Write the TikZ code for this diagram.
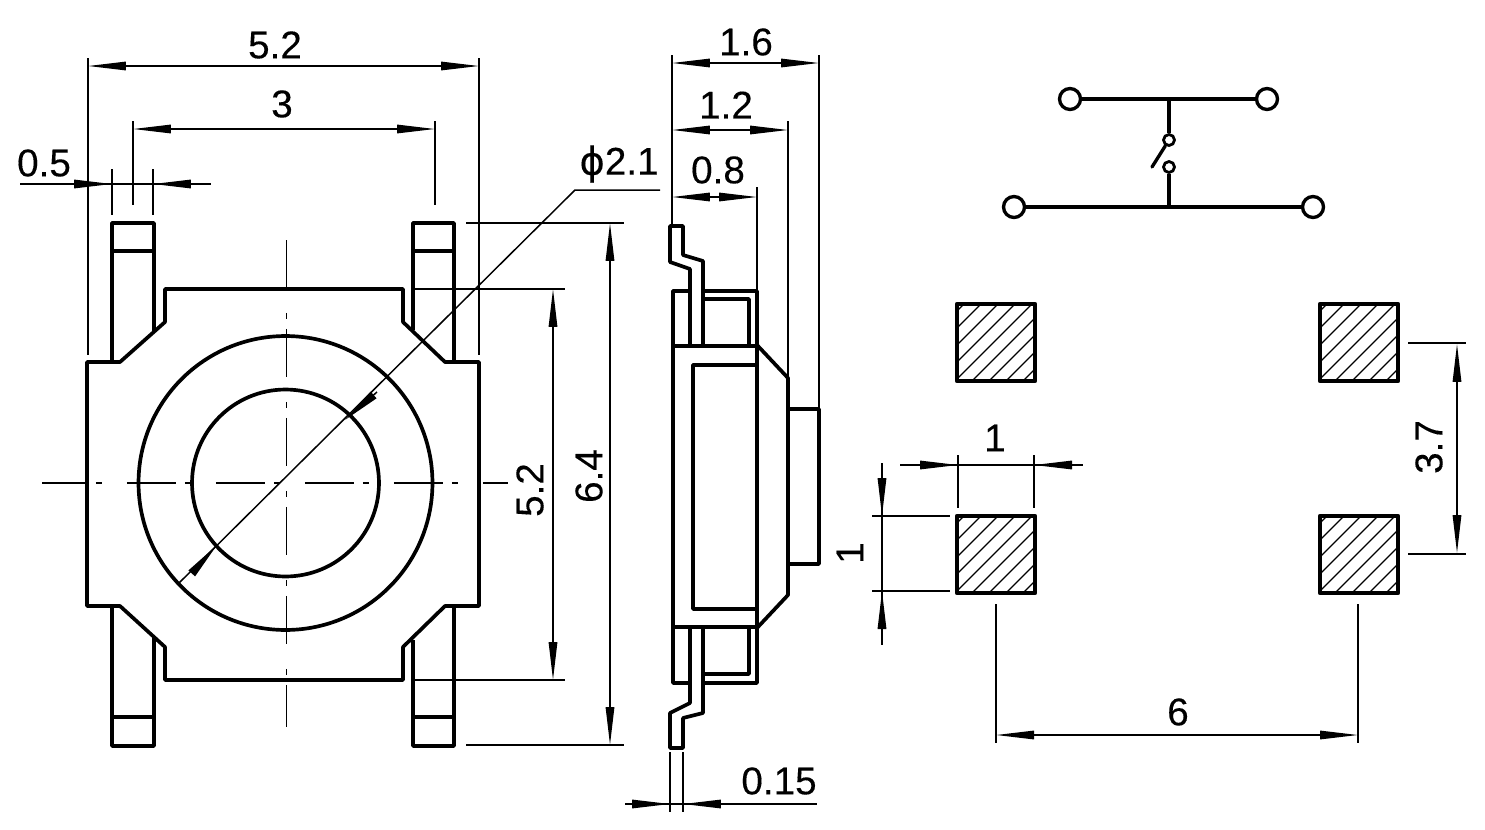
\documentclass[tikz,border=0pt]{standalone}
\usepackage{fontspec}
\setmainfont[FakeBold=0.25]{Liberation Sans}
\newfontfamily\symfont[FakeBold=0.25]{DejaVu Sans}
\usetikzlibrary{arrows.meta}

\begin{document}
\begin{tikzpicture}[x=0.02cm, y=-0.02cm, line join=round,
  outline/.style={line width=2.1pt},
  thinline/.style={line width=0.85pt},
  wire/.style={line width=1.9pt},
  hatchline/.style={line width=0.75pt},
  padbox/.style={line width=2.4pt},
  dimline/.style={thinline, {Triangle[length=0.76cm,width=0.17cm]}-{Triangle[length=0.76cm,width=0.17cm]}},
  tipin/.style={thinline, -{Triangle[length=0.76cm,width=0.17cm]}},
  dimtext/.style={font=\fontsize{22}{22}\selectfont, inner sep=0pt},
  term/.style={circle, draw, wire, fill=white, inner sep=0pt, minimum size=0.42cm},
  contact/.style={circle, draw, line width=1.6pt, fill=white, inner sep=0pt, minimum size=0.22cm},
  centerh/.style={thinline, dash pattern=on 0.98cm off 0.18cm on 0.12cm off 0.5cm, dash phase=0.08cm},
  centerv/.style={thinline, dash pattern=on 0.96cm off 0.5cm on 0.12cm off 0.2cm},
]
  \useasboundingbox (0,0) rectangle (1485,829);

  % front view
  \draw[outline] (165,289) -- (403,289) -- (403,322) -- (445,362) -- (479,362) -- (479,606) -- (445,606)
    -- (403,647) -- (403,680) -- (165,680) -- (165,647) -- (120,606) -- (87,606) -- (87,362) -- (120,362)
    -- (165,322) -- cycle;
  \draw[outline] (112,362) -- (112,223) -- (154,223) -- (154,332) (112,251) -- (154,251);
  \draw[outline] (413,330) -- (413,223) -- (454,223) -- (454,362) (413,251) -- (454,251);
  \draw[outline] (112,606) -- (112,746) -- (154,746) -- (154,638) (112,717) -- (154,717);
  \draw[outline] (413,640) -- (413,746) -- (454,746) -- (454,606) (413,717) -- (454,717);
  \draw[outline] (285.5,483) circle (2.94cm) circle (1.87cm);
  \draw[centerh] (42,483) -- (508,483);
  \draw[centerv] (286.5,240) -- (286.5,727);

  % side view
  \draw[outline] (690,346) -- (690,269) -- (670,262) -- (670,226) -- (683,226) -- (683,255) -- (703,261) -- (703,346);
  \draw[outline] (690,627) -- (690,703) -- (670,713) -- (670,748) -- (683,748) -- (683,718) -- (703,713) -- (703,627);
  \draw[outline] (690,291) -- (673,291) -- (673,683) -- (690,683) (703,291) -- (757,291) -- (757,683) -- (703,683);
  \draw[outline] (673,346) -- (757,346) (673,627) -- (757,627);
  \draw[outline] (703,299) -- (749,299) -- (749,346) (703,674) -- (749,674) -- (749,627);
  \draw[outline] (757,365) -- (693,365) -- (693,609) -- (757,609);
  \draw[outline] (757,345) -- (788,378) -- (788,595) -- (757,628);
  \draw[outline] (788,409) -- (819,409) -- (819,564) -- (788,564);

  % symbol
  \node[term] (ta) at (1070,99) {};
  \node[term] (tb) at (1267,99) {};
  \node[term] (tc) at (1014,207) {};
  \node[term] (td) at (1313,207) {};
  \node[contact] (ca) at (1169,140) {};
  \node[contact] (cb) at (1169,167) {};
  \coordinate (ja) at (1169,99);
  \coordinate (jb) at (1169,207);
  \coordinate (bladeend) at (1152,167);
  \draw[wire] (ta) -- (tb) (tc) -- (td) (ja) -- (ca) (cb) -- (jb);
  \draw[wire, line cap=round] (bladeend) -- (ca);

  % pads
  \foreach \px/\py in {957/304, 1320/304, 957/516, 1320/516} {
    \begin{scope}
      \clip (\px,\py) rectangle ++(78,77);
      \foreach \k in {0,...,9} {
        \draw[hatchline] (\px-73+\k*17,\py+80) -- ++(80,-80);
      }
    \end{scope}
    \draw[padbox] (\px,\py) rectangle ++(78,77);
  }

  % extension lines, front view
  \draw[thinline] (88,58) -- (88,355) (479,58) -- (479,355);
  \draw[thinline] (133,121) -- (133,205) (435,121) -- (435,205);
  \draw[thinline] (112,169) -- (112,215) (153,169) -- (153,215);
  \draw[thinline] (413,289) -- (565,289) (413,680) -- (565,680);
  \draw[thinline] (466,223) -- (624,223) (466,745) -- (624,745);

  % extension lines, side view
  \draw[thinline] (672,55) -- (672,226) (819,55) -- (819,409);
  \draw[thinline] (788,121) -- (788,378) (757,187) -- (757,291);
  \draw[thinline] (670,752) -- (670,812) (683,752) -- (683,812);

  % extension lines, pads
  \draw[thinline] (958,455) -- (958,508) (1034,455) -- (1034,508);
  \draw[thinline] (872,516) -- (950,516) (872,591) -- (950,591);
  \draw[thinline] (1408,343) -- (1466,343) (1408,554) -- (1466,554);
  \draw[thinline] (996,604) -- (996,743) (1358,604) -- (1358,743);

  % dimension lines
  \draw[dimline] (88,66) -- (479,66);
  \draw[dimline] (133,129) -- (435,129);
  \draw[dimline] (553,289) -- (553,680);
  \draw[dimline] (610,223) -- (610,745);
  \draw[dimline] (672,63) -- (819,63);
  \draw[dimline] (672,130) -- (788,130);
  \draw[dimline] (672,197) -- (757,197);
  \draw[dimline] (1457,344) -- (1457,553);
  \draw[dimline] (996,735) -- (1358,735);

  \draw[thinline] (20,184) -- (211,184);
  \draw[tipin] (73,184) -- (112,184);
  \draw[tipin] (196,184) -- (153,184);
  \draw[thinline] (625,804) -- (817,804);
  \draw[tipin] (633,804) -- (670,804);
  \draw[tipin] (722,804) -- (683,804);
  \draw[thinline] (900,465) -- (1083,465);
  \draw[tipin] (917,465) -- (958,465);
  \draw[tipin] (1067,465) -- (1034,465);
  \draw[thinline] (882,463) -- (882,645);
  \draw[tipin] (882,480) -- (882,516);
  \draw[tipin] (882,630) -- (882,591);

  % diameter leader
  \draw[thinline] (660,190) -- (575,190) -- (178,584);
  \draw[tipin] (377,392) -- (345,420);
  \draw[tipin] (193,572) -- (217,545);

  % labels
  \node[dimtext] (topwidth) at (275,45) {5.2};
  \node[dimtext] (leadspan) at (282,104) {3};
  \node[dimtext] (leadwidth) at (44,163) {0.5};
  \node[dimtext] (capdia) at (619,164) {{\symfont ϕ}2.1};
  \node[dimtext, rotate=90] (bodyheight) at (530,490) {5.2};
  \node[dimtext, rotate=90] (totalheight) at (589,476) {6.4};
  \node[dimtext] (totaldepth) at (746,42) {1.6};
  \node[dimtext] (bodydepth) at (726,105) {1.2};
  \node[dimtext] (basedepth) at (718,170) {0.8};
  \node[dimtext] (leadthick) at (779,781) {0.15};
  \node[dimtext] (padwidth) at (995,438) {1};
  \node[dimtext, rotate=90] (padheight) at (850,553) {1};
  \node[dimtext, rotate=90] (padgap) at (1429,447) {3.7};
  \node[dimtext] (padspan) at (1178,712) {6};
\end{tikzpicture}
\end{document}
